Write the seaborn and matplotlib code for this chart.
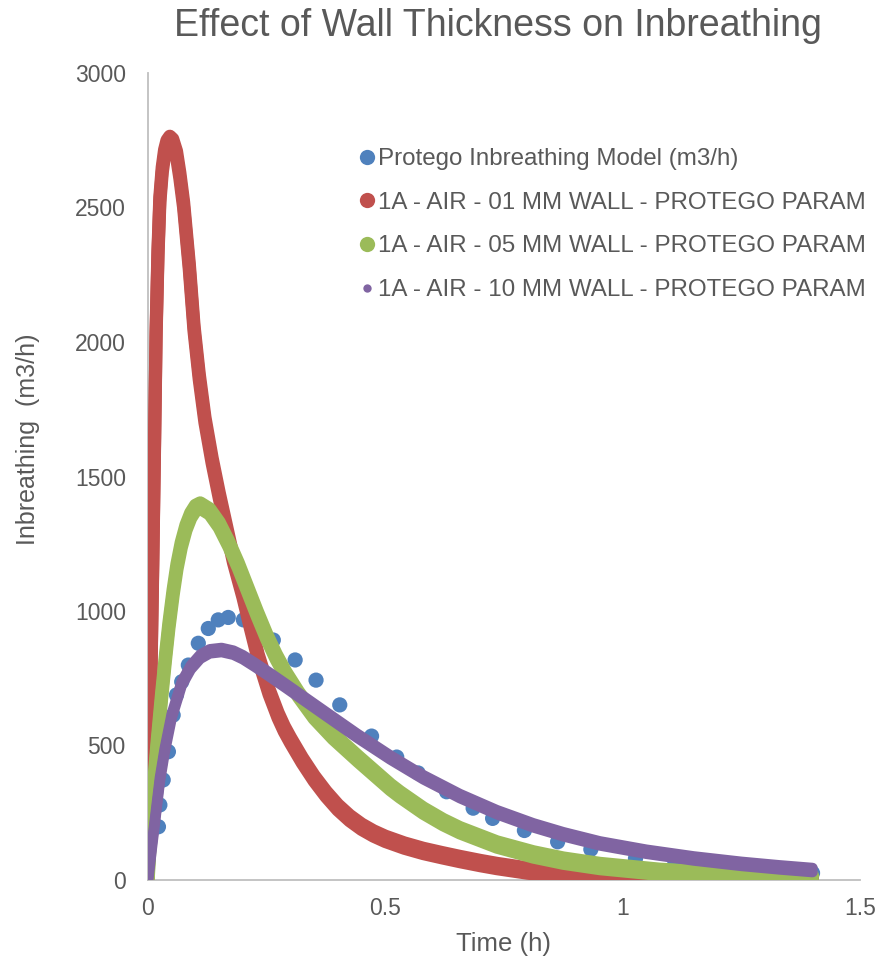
import matplotlib
matplotlib.use("Agg")
import matplotlib.pyplot as plt
from matplotlib.lines import Line2D
import matplotlib.patheffects as pe
import seaborn as sns

# ---------------- data ----------------
protego_t = [0.022, 0.025, 0.032, 0.043, 0.053, 0.060, 0.071,
             0.085, 0.106, 0.127, 0.148, 0.169, 0.201, 0.232, 0.264, 0.310, 0.354,
             0.404, 0.471, 0.524, 0.569, 0.629, 0.685, 0.726, 0.793, 0.863, 0.933,
             1.027, 1.110, 1.166, 1.250, 1.330, 1.400]
protego_q = [198, 279, 372, 477, 613, 688, 737,
             799, 880, 935, 967, 976, 967, 943, 892, 818, 743,
             651, 535, 457, 398, 328, 267, 229, 184, 142, 114,
             80, 62, 49, 40, 32, 26]

wall01_t = [0.0, 0.003, 0.006, 0.010, 0.014, 0.017, 0.021, 0.025, 0.030, 0.035,
            0.040, 0.046, 0.052, 0.060, 0.067, 0.075, 0.087, 0.097, 0.108, 0.120,
            0.135, 0.150, 0.165, 0.180, 0.200, 0.215, 0.232, 0.255, 0.274, 0.287,
            0.300, 0.325, 0.350, 0.375, 0.400, 0.425, 0.450, 0.475, 0.500, 0.540,
            0.580, 0.620, 0.657, 0.700, 0.735, 0.800, 0.875, 0.950, 1.000, 1.100,
            1.200, 1.300, 1.400]
wall01_q = [0, 350, 750, 1180, 1650, 2030, 2330, 2530, 2640, 2705,
            2740, 2755, 2745, 2700, 2620, 2510, 2280, 2050, 1870, 1710,
            1560, 1430, 1310, 1190, 1060, 950, 830, 700, 612, 562,
            520, 445, 378, 320, 270, 230, 198, 173, 153, 128,
            108, 92, 78, 63, 52, 35, 22, 14, 10, 6,
            3, 2, 1]

wall05_t = [0.0, 0.005, 0.012, 0.019, 0.029, 0.037, 0.044, 0.053, 0.061, 0.070,
            0.080, 0.090, 0.100, 0.110, 0.130, 0.150, 0.170, 0.190, 0.210, 0.230,
            0.250, 0.270, 0.290, 0.317, 0.350, 0.390, 0.443, 0.511, 0.531, 0.580,
            0.622, 0.657, 0.735, 0.812, 0.875, 0.952, 1.080, 1.230, 1.300, 1.400]
wall05_q = [0, 160, 350, 500, 690, 830, 945, 1070, 1165, 1245,
            1310, 1355, 1383, 1392, 1370, 1320, 1250, 1170, 1080, 990,
            905, 830, 765, 690, 610, 535, 450, 345, 318, 258,
            215, 185, 132, 95, 72, 52, 30, 17, 12, 6]

wall10_t = [0.0, 0.008, 0.025, 0.035, 0.050, 0.071, 0.090, 0.110, 0.130, 0.155,
            0.180, 0.200, 0.225, 0.253, 0.290, 0.324, 0.375, 0.440, 0.510, 0.580,
            0.657, 0.735, 0.812, 0.875, 0.952, 1.050, 1.150, 1.250, 1.330, 1.400]
wall10_q = [0, 123, 372, 480, 610, 730, 790, 830, 850, 855,
            845, 828, 800, 767, 722, 680, 617, 537, 456, 382,
            312, 252, 203, 170, 136, 105, 80, 60, 47, 37]

series_names = ["Protego Inbreathing Model (m3/h)",
                "1A - AIR - 01 MM WALL - PROTEGO PARAM",
                "1A - AIR - 05 MM WALL - PROTEGO PARAM",
                "1A - AIR - 10 MM WALL - PROTEGO PARAM"]
x_ticks = [0, 0.5, 1, 1.5]
x_tick_labels = ["0", "0.5", "1", "1.5"]
y_ticks = [0, 500, 1000, 1500, 2000, 2500, 3000]

title_text = "Effect of Wall Thickness on Inbreathing"
x_label = "Time (h)"
y_label = "Inbreathing  (m3/h)"

# ---------------- style ----------------
sns.set_theme(style="white")
plt.rcParams["font.family"] = ["Liberation Sans", "DejaVu Sans"]

c_blue = "#4F81BD"
c_red = "#C0504D"
c_green = "#9BBB59"
c_purple = "#8064A2"
text_col = "#595959"
axis_col = "#BFBFBF"

fig = plt.figure(figsize=(8.81, 9.60), dpi=100)
ax = fig.add_axes([148 / 881, 80 / 960, 712 / 881, 807 / 960])


def pen(dy):
    # doubled stroke shifted vertically: a slightly elongated "marker" pen
    return [pe.Stroke(offset=(0, dy)), pe.Stroke(offset=(0, -dy))]


common = dict(solid_capstyle="round", solid_joinstyle="round", sort=False,
              estimator=None, legend=False)

sns.scatterplot(x=protego_t, y=protego_q, ax=ax, color=c_blue, s=120,
                edgecolor="none", zorder=2, legend=False)
sns.lineplot(x=wall01_t, y=wall01_q, ax=ax, color=c_red, linewidth=9.5,
             zorder=3, path_effects=pen(1.9), **common)
sns.lineplot(x=wall05_t, y=wall05_q, ax=ax, color=c_green, linewidth=9.5,
             zorder=4, path_effects=pen(1.9), **common)
sns.lineplot(x=wall10_t, y=wall10_q, ax=ax, color=c_purple, linewidth=7.5,
             zorder=5, path_effects=pen(1.5), **common)

ax.set_xlim(0, 1.5)
ax.set_ylim(0, 3000)
ax.set_xticks(x_ticks)
ax.set_xticklabels(x_tick_labels)
ax.set_yticks(y_ticks)
for lab in ax.get_xticklabels() + ax.get_yticklabels():
    lab.set_fontsize(16.5)
    lab.set_color(text_col)
ax.tick_params(axis="y", length=0, pad=16)
ax.tick_params(axis="x", length=0, pad=12)

for side in ["top", "right"]:
    ax.spines[side].set_visible(False)
for side in ["left", "bottom"]:
    ax.spines[side].set_color(axis_col)
    ax.spines[side].set_linewidth(1.3)
ax.grid(False)

ax.set_xlabel(x_label, fontsize=18.5, color=text_col, va="center")
ax.xaxis.set_label_coords(0.5, -(944 - 880) / 807)
ax.set_ylabel(y_label, fontsize=18, color=text_col, va="center")
ax.yaxis.set_label_coords((28 - 148) / 712, (880 - 439) / 807)
fig.text(0.565, 0.973, title_text, ha="center", va="center", fontsize=27,
         color=text_col)

handles = [
    Line2D([], [], linestyle="none", marker="o", markersize=11, color=c_blue, markeredgewidth=0),
    Line2D([], [], linestyle="none", marker="o", markersize=11, color=c_red, markeredgewidth=0),
    Line2D([], [], linestyle="none", marker="o", markersize=11, color=c_green, markeredgewidth=0),
    Line2D([], [], linestyle="none", marker="o", markersize=6, color=c_purple, markeredgewidth=0),
]
leg = ax.legend(handles, series_names, loc="upper left",
                bbox_to_anchor=((360 - 148) / 712, 1 - (148 - 73) / 807),
                frameon=False, fontsize=17.4, handlelength=0.6,
                handletextpad=0.15, labelspacing=0.9, borderaxespad=0,
                borderpad=0)
for t in leg.get_texts():
    t.set_color(text_col)

fig.savefig("out.png", dpi=100, facecolor="white")
